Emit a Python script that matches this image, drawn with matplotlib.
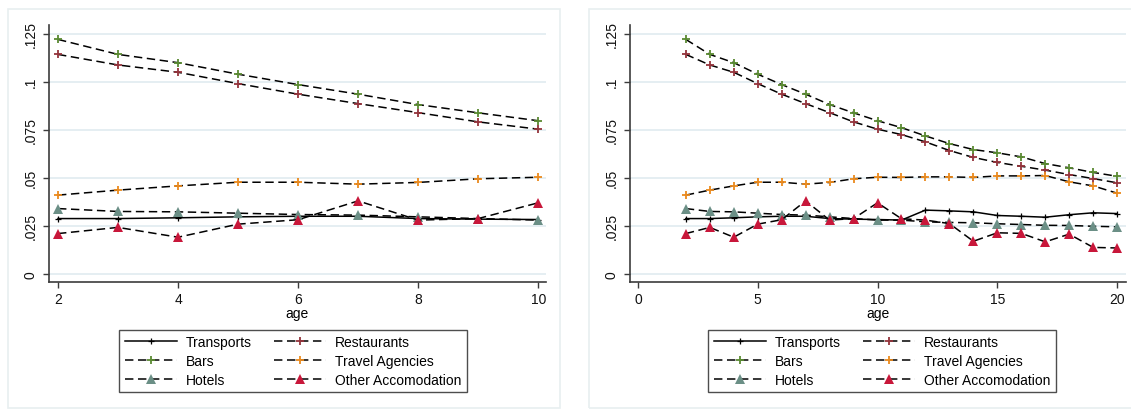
import numpy as np
import matplotlib
matplotlib.use("Agg")
import matplotlib.pyplot as plt
from matplotlib.patches import Rectangle

plt.rcParams['font.family'] = ['Liberation Sans', 'DejaVu Sans']

age = np.arange(2, 21)
transports = [.0288, .0288, .0292, .0297, .0300, .0300, .0288, .0285, .0283, .0280,
              .0332, .0328, .0323, .0304, .0300, .0295, .0308, .0318, .0314]
restaurants = [.1142, .1087, .1049, .0990, .0935, .0886, .0839, .0791, .0753, .0725,
               .0687, .0642, .0606, .0580, .0560, .0540, .0517, .0496, .0474]
bars = [.1220, .1142, .1099, .1039, .0985, .0935, .0881, .0838, .0797, .0761,
        .0718, .0678, .0647, .0630, .0609, .0574, .0552, .0528, .0508]
travel = [.0410, .0436, .0458, .0477, .0477, .0467, .0476, .0495, .0503, .0502,
          .0505, .0505, .0502, .0510, .0510, .0512, .0479, .0458, .0420]
hotels = [.0340, .0325, .0323, .0316, .0309, .0306, .0297, .0288, .0280, .0280,
          .0271, .0268, .0266, .0261, .0257, .0253, .0252, .0248, .0245]
other_acc = [.0210, .0242, .0191, .0259, .0282, .0380, .0280, .0288, .0370, .0287,
             .0280, .0262, .0170, .0214, .0211, .0167, .0207, .0138, .0135]

yticks = [0, .025, .05, .075, .1, .125]
ytick_labels = ['0', '.025', '.05', '.075', '.1', '.125']

dash = (0, (5.5, 3))
series = [
    ('Transports', transports, dict(ls='-', marker='+', color='black', ms=4, mew=0.9, mec='black')),
    ('Restaurants', restaurants, dict(ls=dash, marker='+', color='black', ms=5.5, mew=1.3, mec='#94343c')),
    ('Bars', bars, dict(ls=dash, marker='+', color='black', ms=5.5, mew=1.3, mec='#5a8a32')),
    ('Travel Agencies', travel, dict(ls=dash, marker='+', color='black', ms=5.5, mew=1.3, mec='#ea8a1e')),
    ('Hotels', hotels, dict(ls=dash, marker='^', color='black', ms=7.5, mew=0, mfc='#6b8f86')),
    ('Other Accomodation', other_acc, dict(ls=dash, marker='^', color='black', ms=7.5, mew=0, mfc='#c8173a')),
]
# legend reads row by row: matplotlib fills columns, so reorder
leg_order = [0, 2, 4, 1, 3, 5]

W, H = 1131, 410
fig = plt.figure(figsize=(W / 100, H / 100), dpi=100)
fig.patch.set_facecolor('white')

# faint panel borders
for x0, x1 in [(8, 560), (589, 1140)]:
    fig.patches.append(Rectangle((x0 / W, 1 - 409 / H), (x1 - x0) / W, (409 - 10) / H,
                                 transform=fig.transFigure, fill=False,
                                 ec='#e8eff0', lw=1.2))

panels = [
    dict(rect=(49, 546), n=9, xlim=(1.85, 10.13), xticks=[2, 4, 6, 8, 10], leg_cx=293),
    dict(rect=(630, 1126), n=19, xlim=(-0.33, 20.37), xticks=[0, 5, 10, 15, 20], leg_cx=882),
]

for p in panels:
    x0, x1 = p['rect']
    ax = fig.add_axes([x0 / W, 1 - 283 / H, (x1 - x0) / W, (283 - 26) / H])
    n = p['n']
    lines = []
    for label, vals, st in series:
        ln, = ax.plot(age[:n], vals[:n], lw=1.1, label=label, **st)
        lines.append(ln)
    ax.set_xlim(*p['xlim'])
    ax.set_ylim(-0.0042, 0.1295)
    ax.set_yticks(yticks)
    ax.set_yticklabels(ytick_labels, rotation=90, va='center')
    ax.set_xticks(p['xticks'])
    for y in yticks:
        ax.axhline(y, color='#e3edf1', lw=1.3, zorder=0)
    for s in ['top', 'right']:
        ax.spines[s].set_visible(False)
    for s in ['left', 'bottom']:
        ax.spines[s].set_color('#3c3c3c')
        ax.spines[s].set_linewidth(1.2)
    ax.tick_params(direction='out', length=4.5, width=1, color='#3c3c3c',
                   labelsize=10, labelcolor='#111111', pad=2.5)
    ax.tick_params(axis='y', pad=3.5)
    ax.set_xlabel('age', fontsize=10, labelpad=0)
    hs = [lines[i] for i in leg_order]
    ls = [series[i][0] for i in leg_order]
    leg = ax.legend(hs, ls, ncol=2, loc='center', bbox_to_anchor=(p['leg_cx'] / W, 1 - 362 / H),
                    bbox_transform=fig.transFigure, fontsize=10, numpoints=1,
                    handlelength=3.75, handletextpad=0.65, columnspacing=1.6,
                    labelspacing=0.35, borderpad=0.4, fancybox=False, frameon=True)
    leg.get_frame().set_edgecolor('#222222')
    leg.get_frame().set_linewidth(1.0)

fig.savefig('out.png', dpi=100, facecolor='white')
